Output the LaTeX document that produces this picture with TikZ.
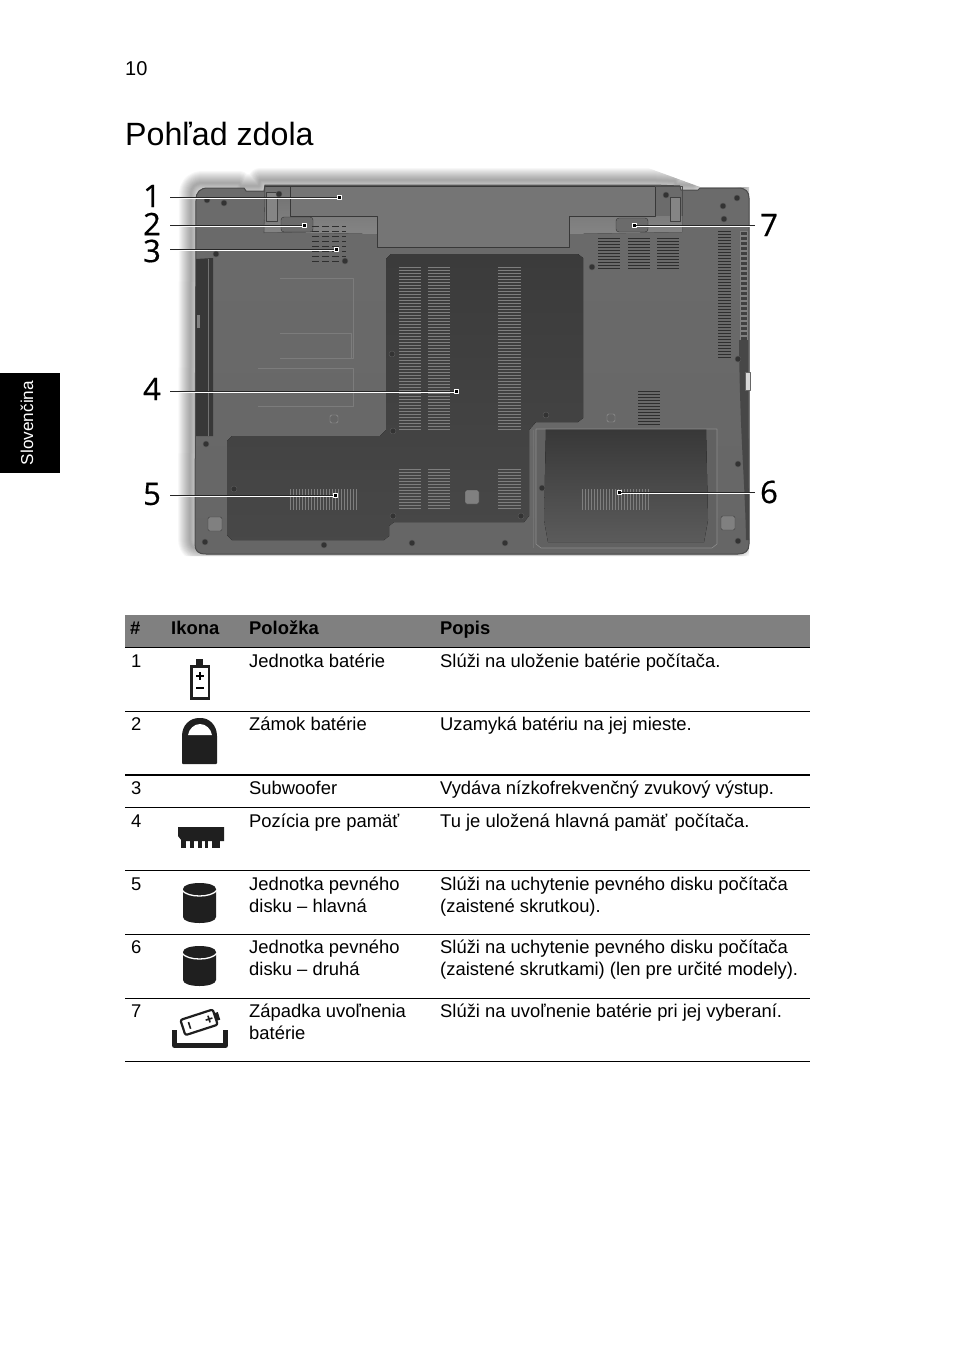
\documentclass[tikz,border=0pt]{standalone}
\usepackage{fontspec}
\setmainfont{Liberation Sans}
\newfontfamily\calloutfont[FakeBold=0.5]{Open Sans}
\usetikzlibrary{calc}
\definecolor{bandgray}{HTML}{808080}
\definecolor{bodygray}{HTML}{6A6A6A}
\definecolor{doorgray}{HTML}{3E3E3E}
\definecolor{ventdark}{HTML}{2E2E2E}
\definecolor{ventlight}{HTML}{7E7E7E}
\tikzset{>=latex,
    celltext/.style={anchor=base west, inner sep=0pt, align=left, font=\fontsize{18.4}{22}\selectfont},
    headtext/.style={celltext, font=\fontsize{18.4}{22}\selectfont\bfseries},
    rowline/.style={draw=black, line width=1pt},
    callout/.style={inner sep=0pt, font=\fontsize{31}{31}\selectfont\calloutfont},
    spot/.style={draw=white, fill=black, line width=0.6pt, minimum size=4pt, inner sep=0pt},
    leader/.style={draw=black!85, line width=1pt, preaction={draw=white, line width=1pt, transform canvas={yshift=-1pt}}},
    iconink/.style={fill=black!88, draw=none},
    screw/.style={fill=black!80, draw=black!65, line width=0.5pt},
    faint/.style={draw=white!12!bodygray, line width=0.5pt},
}
\newcommand{\bodyoutline}{(196,200) .. controls (196,192) and (200,188) .. (208,188) -- (244,188) -- (246,191) -- (264,191) -- (265,185) -- (655,185) -- (680,186) -- (681,190) -- (698,190) -- (700,188) -- (738,188) .. controls (746,188) and (749,192) .. (749,198) -- (749,544) .. controls (749,551) and (745,554) .. (738,554) -- (206,554) .. controls (198,554) and (195,551) .. (195,544) -- cycle}
% x1, x2, y1, y2 and colour of a vent with horizontal slots
\newcommand{\ventrows}[5]{
    \foreach \ypos in {#3,\the\numexpr#3+3\relax,...,#4}{
        \draw[#5, line width=0.8pt] (#1,\ypos) -- (#2,\ypos);
    }
}
\newcommand{\ventcols}[4]{
    \foreach \xpos in {#1,\the\numexpr#1+3\relax,...,#2}{
        \draw[ventlight, line width=0.9pt] (\xpos,#3) -- (\xpos,#4);
    }
}
\newcommand{\diskicon}[1]{
    \fill[black!88] (183,#1+6) .. controls (183,#1-2) and (216,#1-2) .. (216,#1+6) -- (216,#1+34) .. controls (216,#1+42) and (183,#1+42) .. (183,#1+34) -- cycle;
    \draw[white, line width=1.3pt] (182,#1+7) .. controls (187,#1+15) and (212,#1+15) .. (217,#1+7);
}

\begin{document}
\begin{tikzpicture}[x=1pt, y=-1pt, line join=round]
    \useasboundingbox (0,0) rectangle (954,1369);
    \fill[white] (0,0) rectangle (954,1369);

    % page furniture
    \node[anchor=base west, inner sep=0pt, font=\fontsize{20}{24}\selectfont] (pagenum) at (125,75) {10};
    \node[anchor=base west, inner sep=0pt, font=\fontsize{32.2}{38}\selectfont] (title) at (125,145) {Pohľad zdola};
    \fill[black] (0,373) rectangle (60,473);
    \node[rotate=90, text=white, inner sep=0pt, font=\fontsize{17.2}{20}\selectfont] (sidetab) at (27,423) {Slovenčina};

    % soft shadow of the laptop
    \begin{scope}
        \clip (170,165) -- (640,165) -- (700,187) -- (749,187) -- (749,556) -- (170,556) -- cycle;
        \foreach \w in {2,4,...,24}{
            \draw[black, opacity=0.03, line width=\w pt, shift={(-5,-5)}] \bodyoutline;
        }
    \end{scope}
    \fill[top color=black!58, bottom color=black!60] \bodyoutline;
    \draw[black!70, line width=1pt] \bodyoutline;

    % battery
    \fill[top color=black!56, bottom color=black!46] (265,186) -- (655,186) -- (655,216) -- (682,216) -- (682,232) -- (569,234) -- (569,247) -- (377,247) -- (377,234) -- (264,232) -- cycle;
    \fill[black!54] (290,186) -- (655,186) -- (655,216) -- (569,216) -- (569,247) -- (377,247) -- (377,216) -- (290,216) -- cycle;
    \draw[black!78, line width=0.8pt] (290,186) -- (290,216) -- (377,216) -- (377,247) -- (569,247) -- (569,216) -- (655,216) -- (655,186);
    \draw[black!78, line width=1pt] (265,186) -- (655,186);
    \draw[black!70, line width=0.6pt] (265,186) -- (264,233);
    \draw[black!70, line width=0.6pt] (655,186) -- (682,186) -- (682,216);
    \fill[black!48, draw=black!75] (266,192) rectangle (277,221);
    \fill[black!48, draw=black!75] (670,197) rectangle (680,221);
    \fill[black!58, draw=black!80, rounded corners=3pt] (281,217) rectangle (313,232);
    \fill[black!58, draw=black!80, rounded corners=3pt] (616,218) rectangle (648,232);

    % optical drive
    \fill[black!78] (196,259) -- (213,258) -- (213,436) -- (196,436) -- cycle;
    \draw[black!55, line width=0.8pt] (208,259) -- (208,436);
    \fill[black!50] (197,315) rectangle (200,328);

    % faint outlines in the left area
    \draw[faint] (280,278) -- (353,278) -- (353,358) -- (280,358);
    \draw[faint] (280,333) -- (351,333) -- (351,358);
    \draw[faint] (258,368) -- (353,368) -- (353,406) -- (258,406);

    % doors
    \fill[top color=doorgray!95!black, bottom color=doorgray!95!white] (391,254) -- (578,254) -- (583,258) -- (583,418) -- (578,422) -- (536,422) -- (529,430) -- (529,516) -- (524,522) -- (394,522) -- (389,526) -- (389,536) -- (384,540) -- (232,540) -- (227,535) -- (227,441) -- (232,436) -- (380,436) -- (386,430) -- (386,259) -- cycle;
    \fill[black!62] (536,429) -- (717,429) -- (717,544) -- (712,548) -- (541,548) -- (536,544) -- cycle;
    \fill[top color=doorgray!90!black, bottom color=doorgray!85!white] (546,429) -- (706,429) -- (708,520) -- (704,542) -- (548,542) -- (544,520) -- cycle;
    \draw[black!45, line width=0.6pt] (536,429) -- (717,429) -- (717,544) -- (712,548) -- (541,548) -- (536,544) -- cycle;
    \draw[black!55, line width=0.8pt] (533,430) -- (533,548);

    % vents
    \ventrows{399}{421}{267}{430}{ventlight}
    \ventrows{428}{450}{267}{430}{ventlight}
    \ventrows{498}{521}{267}{430}{ventlight}
    \ventrows{399}{421}{469}{508}{ventlight}
    \ventrows{428}{450}{469}{508}{ventlight}
    \ventrows{498}{521}{469}{508}{ventlight}
    \ventrows{598}{620}{238}{269}{ventdark}
    \ventrows{628}{650}{238}{269}{ventdark}
    \ventrows{657}{679}{238}{269}{ventdark}
    \ventrows{718}{731}{231}{357}{ventdark}
    \ventrows{638}{660}{391}{425}{ventdark}
    \ventcols{290}{357}{489}{510}
    \ventcols{582}{648}{489}{510}
    \foreach \ypos in {226,231,...,262}{
        \draw[ventdark, line width=1pt, dash pattern=on 7pt off 3pt] (312,\ypos) -- (346,\ypos);
    }
    \foreach \ypos in {231,236,...,340}{
        \draw[black!50, fill=black!75, line width=0.6pt] (740,\ypos) rectangle (747,\ypos+4);
    }
    \fill[black!72] (739,340) -- (748,340) -- (749,540) -- (746,540) .. controls (745,480) and (740,440) .. cycle;
    \fill[black!15, draw=black!60] (745,372) rectangle (750,390);

    % feet
    \foreach \xpos/\ypos in {215/524, 728/523, 472/497}{
        \fill[black!50, draw=black!75, rounded corners=1.5pt] (\xpos-7,\ypos-7) rectangle (\xpos+7,\ypos+7);
    }
    \foreach \xpos/\ypos in {334/419, 611/418}{
        \draw[black!40, fill=black!60, rounded corners=1.5pt] (\xpos-4,\ypos-4) rectangle (\xpos+4,\ypos+4);
    }

    % screws
    \foreach \xpos/\ypos in {207/200, 224/203, 279/194, 216/254, 345/261, 392/354, 666/195, 737/198, 723/206, 724/219, 592/267, 738/359, 206/444, 234/489, 393/431, 393/516, 205/542, 324/545, 412/543, 546/415, 542/488, 521/516, 505/543, 738/464, 738/541}{
        \filldraw[screw] (\xpos,\ypos) circle (3pt);
    }

    % callouts
    \node[callout] (lab1) at (152,196) {1};
    \node[callout] (lab2) at (152,224) {2};
    \node[callout] (lab3) at (152,251) {3};
    \node[callout] (lab4) at (152,389) {4};
    \node[callout] (lab5) at (152,494) {5};
    \node[callout] (lab6) at (769,492) {6};
    \node[callout] (lab7) at (769,225) {7};
    \node[spot] (spot1) at (339,197) {};
    \node[spot] (spot2) at (304,225) {};
    \node[spot] (spot3) at (336,249) {};
    \node[spot] (spot4) at (456,391) {};
    \node[spot] (spot5) at (335,495) {};
    \node[spot] (spot6) at (619,492) {};
    \node[spot] (spot7) at (634,225) {};
    \foreach \n in {1,...,5}{
        \draw[leader] ($(lab\n.east |- spot\n)+(9,0)$) -- (spot\n.west);
    }
    \foreach \n in {6,7}{
        \draw[leader] ($(lab\n.west |- spot\n)+(-5,0)$) -- (spot\n.east);
    }

    % table
    \fill[bandgray] (125,615) rectangle (810,647);
    \foreach \ypos in {647,711,807,870,934,998,1061}{
        \draw[rowline] (125,\ypos) -- (810,\ypos);
    }
    \draw[rowline, line width=2pt] (125,775) -- (810,775);

    \node[headtext] (headnum) at (130,634) {\#};
    \node[headtext] (headicon) at (171,634) {Ikona};
    \node[headtext] (headitem) at (249,634) {Položka};
    \node[headtext] (headdesc) at (440,634) {Popis};

    \foreach \n/\ypos in {1/667, 2/730, 3/794, 4/827, 5/890, 6/953, 7/1017}{
        \node[celltext] (num\n) at (131,\ypos) {\n};
    }
    \node[celltext] (item1) at (249,667) {Jednotka batérie};
    \node[celltext] (desc1) at (440,667) {Slúži na uloženie batérie počítača.};
    \node[celltext] (item2) at (249,730) {Zámok batérie};
    \node[celltext] (desc2) at (440,730) {Uzamyká batériu na jej mieste.};
    \node[celltext] (item3) at (249,794) {Subwoofer};
    \node[celltext] (desc3) at (440,794) {Vydáva nízkofrekvenčný zvukový výstup.};
    \node[celltext] (item4) at (249,827) {Pozícia pre pamäť};
    \node[celltext] (desc4) at (440,827) {Tu je uložená hlavná pamäť\kern2.3pt{} počítača.};
    \node[celltext] (item5) at (249,912) {Jednotka pevného\\disku -- hlavná};
    \node[celltext] (desc5) at (440,912) {Slúži na uchytenie pevného disku počítača\\(zaistené skrutkou).};
    \node[celltext] (item6) at (249,975) {Jednotka pevného\\disku -- druhá};
    \node[celltext] (desc6) at (440,975) {Slúži na uchytenie pevného disku počítača\\(zaistené skrutkami) (len pre určité modely).};
    \node[celltext] (item7) at (249,1039) {Západka uvoľnenia\\batérie};
    \node[celltext] (desc7) at (440,1017) {Slúži na uvoľnenie batérie pri jej vyberaní.};

    % icons
    \fill[iconink] (196,659) rectangle (203,665);
    \fill[iconink] (190,665) rectangle (210,700);
    \fill[white] (192.5,668) rectangle (207.5,697);
    \draw[black, line width=1.1pt] (196,676) -- (204,676) (200,672) -- (200,680) (196,688) -- (204,688);

    \fill[iconink, rounded corners=1pt] (182,764) -- (182,737) .. controls (182,725) and (190,718) .. (200,718) .. controls (209,718) and (217,725) .. (217,737) -- (217,764) -- cycle;
    \fill[white] (188,735) .. controls (189,729) and (194,724) .. (200,724) .. controls (206,724) and (211,729) .. (212,735) -- cycle;

    \fill[iconink] (178,827) -- (224,827) -- (224,841) -- (182,841) -- (178,836) -- cycle;
    \foreach \xa/\xb in {181/186, 190/193.5, 198/201.5, 204.5/208, 212/220}{
        \fill[iconink] (\xa,840) rectangle (\xb,848);
    }

    \diskicon{883}
    \diskicon{946}

    \draw[black!88, line width=5pt, line join=round] (174.5,1030) -- (174.5,1045.5) -- (225.5,1045.5) -- (225.5,1030);
    \begin{scope}[shift={(200,1022)}, rotate=18]
        \draw[black!88, fill=white, line width=2.2pt, rounded corners=2pt] (-18,-8) rectangle (16,8);
        \fill[black!88] (16,-4) rectangle (20,4);
        \draw[black!88, line width=1.6pt] (-11,-3.5) -- (-11,3.5) (6,0) -- (13,0) (9.5,-3.5) -- (9.5,3.5);
    \end{scope}
\end{tikzpicture}
\end{document}
